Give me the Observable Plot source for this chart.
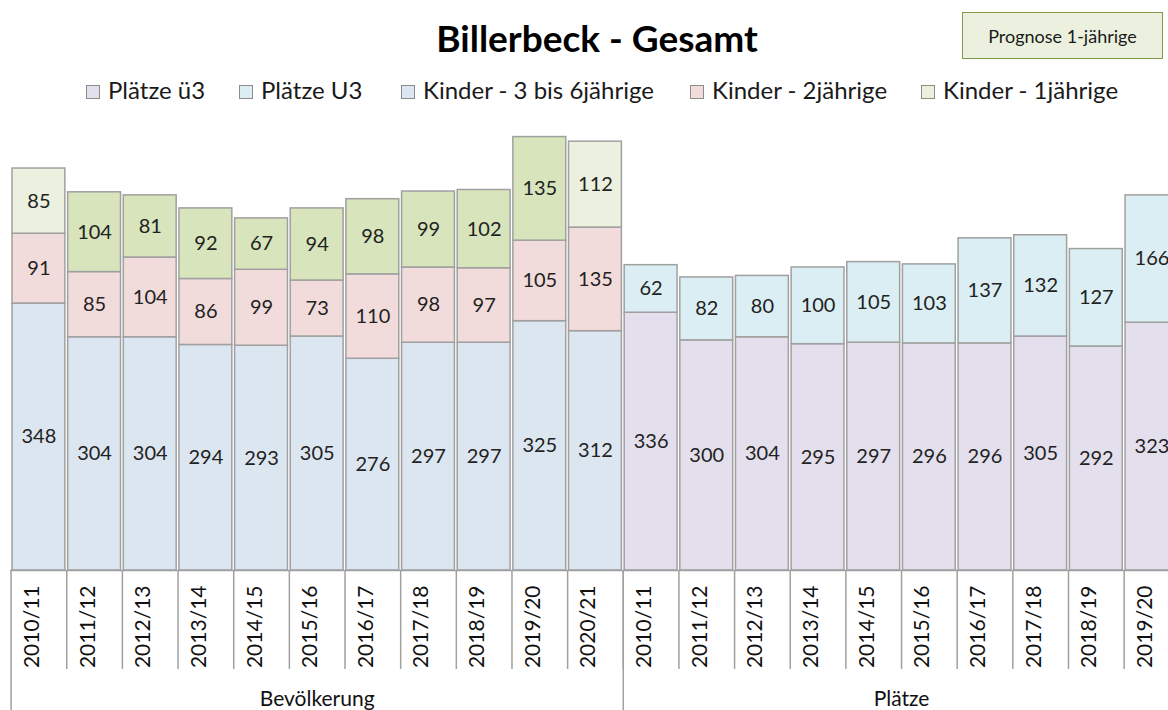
<!DOCTYPE html>
<html><head><meta charset="utf-8">
<script src="https://cdn.jsdelivr.net/npm/d3@7"></script>
<script src="https://cdn.jsdelivr.net/npm/@observablehq/plot@0.6"></script>
<style>
body{margin:0;background:#fff;font-family:Lato,"Open Sans",sans-serif;}
#wrap{position:relative;width:1168px;height:710px;overflow:hidden;background:#fff;}
#chart{position:absolute;left:0;top:0;}
#title{position:absolute;left:0;width:1194px;top:19px;text-align:center;font-weight:700;font-size:37px;line-height:37px;color:#000;}
.li{position:absolute;top:78px;height:24px;font-size:24px;line-height:24px;color:#1a1a1a;white-space:nowrap;}
.sw{position:absolute;top:7px;width:12px;height:12px;border:1px solid #8c8c8c;}
.lt{position:absolute;left:22px;top:0;}
#box{position:absolute;left:962px;top:12px;width:199px;height:45px;background:#EBF1DE;border:1.5px solid #7F9A48;font-size:18px;color:#1a1a1a;display:flex;align-items:center;justify-content:center;}
</style></head><body>
<div id="wrap">
<div id="chart"></div>
<div id="title">Billerbeck - Gesamt</div>
<div id="legend"></div>
<div id="box">Prognose 1-jährige</div>
</div>
<script>
// ---- data ----
const gruppen = ["Bevölkerung", "Plätze"];
const jahreBevoelkerung = ["2010/11","2011/12","2012/13","2013/14","2014/15","2015/16","2016/17","2017/18","2018/19","2019/20","2020/21"];
const jahrePlaetze = ["2010/11","2011/12","2012/13","2013/14","2014/15","2015/16","2016/17","2017/18","2018/19","2019/20"];
const kinder3bis6 = [348,304,304,294,293,305,276,297,297,325,312];
const kinder2 = [91,85,104,86,99,73,110,98,97,105,135];
const kinder1 = [85,104,81,92,67,94,98,99,102,135,112];
const kinder1Hell = [true,false,false,false,false,false,false,false,false,false,true];
const plaetzeUe3 = [336,300,304,295,297,296,296,305,292,323];
const plaetzeU3 = [62,82,80,100,105,103,137,132,127,166];
const legendLabels = ["Plätze ü3","Plätze U3","Kinder - 3 bis 6jährige","Kinder - 2jährige","Kinder - 1jährige"];
const legendColors = ["#E4DFEC","#DAEEF3","#DCE6F1","#F2DCDB","#EBF1DE"];
const colorKinder1Dunkel = "#D7E4BC";

// ---- build table ----
const keyOf = (g, y) => g + "|" + y;
const rows = [];
jahreBevoelkerung.forEach((y, i) => {
  const k = keyOf(gruppen[0], y);
  rows.push({key: k, series: "a", value: kinder3bis6[i], color: legendColors[2]});
  rows.push({key: k, series: "b", value: kinder2[i], color: legendColors[3]});
  rows.push({key: k, series: "c", value: kinder1[i], color: kinder1Hell[i] ? legendColors[4] : colorKinder1Dunkel});
});
jahrePlaetze.forEach((y, i) => {
  const k = keyOf(gruppen[1], y);
  rows.push({key: k, series: "a", value: plaetzeUe3[i], color: legendColors[0]});
  rows.push({key: k, series: "b", value: plaetzeU3[i], color: legendColors[1]});
});
const keys = [...jahreBevoelkerung.map(y => keyOf(gruppen[0], y)), ...jahrePlaetze.map(y => keyOf(gruppen[1], y))];

// ---- layout ----
const W = 1168, H = 710, mT = 33, mB = 140;
const xRange = [10.6, 1179.3], pIn = 0.05, pOut = 0.025;
const step = (xRange[1] - xRange[0]) / (keys.length - pIn + 2 * pOut);
const frameH = H - mT - mB;
const grey = "#A0A0A0";

// legend (HTML)
const legendX = [86, 239, 401, 690, 921];
const leg = document.getElementById("legend");
legendLabels.forEach((t, i) => {
  const d = document.createElement("div");
  d.className = "li"; d.style.left = legendX[i] + "px";
  d.innerHTML = `<span class="sw" style="background:${legendColors[i]}"></span><span class="lt">${t}</span>`;
  leg.appendChild(d);
});

const chart = Plot.plot({
  width: W, height: H,
  marginTop: mT, marginBottom: mB, marginLeft: 10, marginRight: 0,
  x: {type: "band", domain: keys, range: xRange, paddingInner: pIn, paddingOuter: pOut, round: false, axis: null},
  y: {domain: [0, 700], axis: null},
  color: {type: "identity"},
  style: {fontFamily: "Lato, 'Open Sans', sans-serif", fontSize: "20px", color: "#1a1a1a", background: "transparent", overflow: "hidden"},
  marks: [
    Plot.barY(rows, Plot.stackY({x: "key", y: "value", z: "series", fill: "color", stroke: grey, strokeWidth: 1.5})),
    Plot.text(rows, Plot.stackY({x: "key", y: "value", z: "series", text: d => String(d.value), fontSize: 20, fill: "#222"})),
    Plot.ruleY([0], {stroke: grey, strokeWidth: 1.5}),
    Plot.ruleX(keys.slice(1), {x: d => d, dx: -step / 2, insetTop: frameH, insetBottom: -99, stroke: grey, strokeWidth: 1.5}),
    Plot.ruleX([keys[0], keys[jahreBevoelkerung.length]], {x: d => d, dx: -step / 2, insetTop: frameH, insetBottom: -160, stroke: grey, strokeWidth: 1.5}),
    Plot.text(keys, {x: d => d, text: d => d.split("|")[1], frameAnchor: "bottom", dy: 15, rotate: -90, textAnchor: "end", fontSize: 21, fill: "#111"}),
    Plot.text([gruppen[0]], {x: () => keyOf(gruppen[0], jahreBevoelkerung[5]), text: d => d, frameAnchor: "bottom", dy: 135, fontSize: 21, fill: "#111"}),
    Plot.text([gruppen[1]], {x: () => keyOf(gruppen[1], jahrePlaetze[5]), dx: -step / 2, text: d => d, frameAnchor: "bottom", dy: 135, fontSize: 21, fill: "#111"})
  ]
});
document.getElementById("chart").appendChild(chart);
</script>
</body></html>
